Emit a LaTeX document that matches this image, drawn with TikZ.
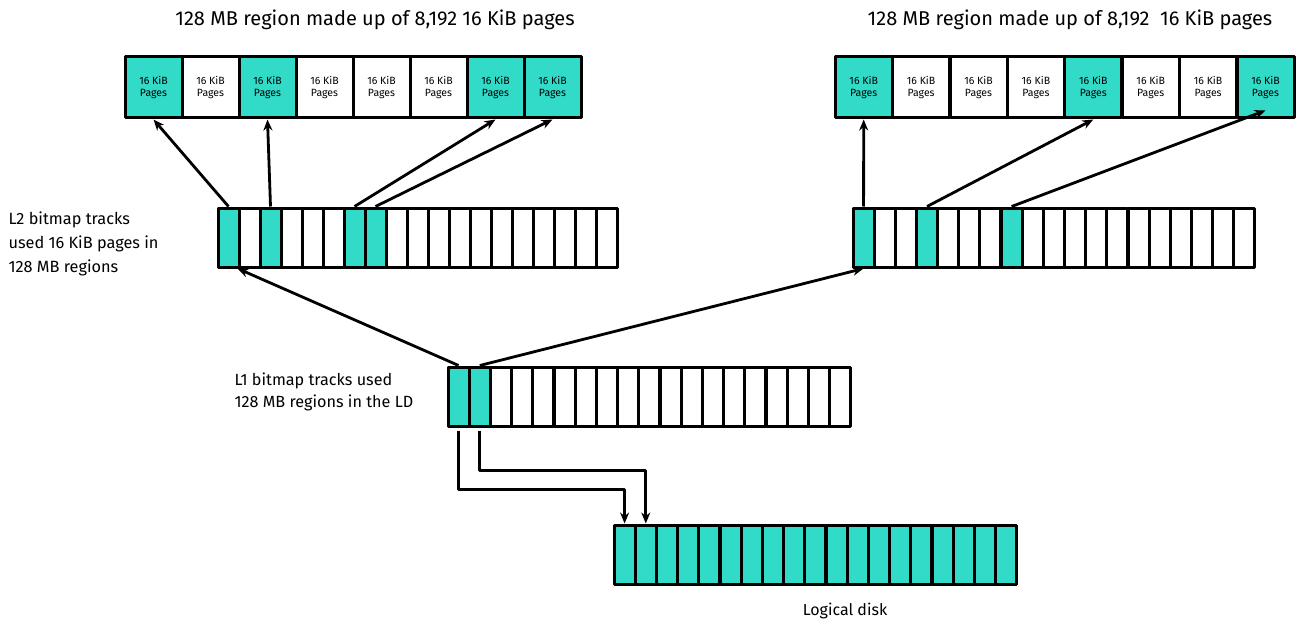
\documentclass[tikz,border=0pt]{standalone}
\usepackage{fontspec}
\setmainfont{Fira Sans}
\usetikzlibrary{arrows.meta}
\definecolor{hpeteal}{RGB}{50,218,200}
\begin{document}
\begin{tikzpicture}[x=1pt, y=1pt, line join=round, >={Stealth[length=11pt,width=9pt]},
	bitcell/.style={draw, line width=3pt, fill=white, minimum width=21pt, minimum height=59pt, inner sep=0pt},
	pagecell/.style={draw, line width=3pt, fill=white, minimum width=57pt, minimum height=61pt, inner sep=0pt, align=center, font=\fontsize{10.5}{11.5}\selectfont},
	used/.style={fill=hpeteal}, free/.style={},
	link/.style={->, line width=2.8pt}]
	\useasboundingbox (0,0) rectangle (1296,-623);
	% titles
	\node[font=\fontsize{20}{24}\selectfont] (titlea) at (375,-20) {128 MB region made up of 8,192 16 KiB pages};
	\node[font=\fontsize{20}{24}\selectfont] (titleb) at (1070,-20) {128 MB region made up of 8,192\ \ 16 KiB pages};
	% 16 KiB pages
	\foreach \i/\f in {1/used,2/free,3/used,4/free,5/free,6/free,7/used,8/used}
	\node[pagecell,\f] (pa\i) at ({125+57*(\i-0.5)},-87.5) {16 KiB\\Pages};
	\foreach \i/\f in {1/used,2/free,3/free,4/free,5/used,6/free,7/free,8/used}
	\node[pagecell,\f] (pb\i) at ({835+57.4*(\i-0.5)},-87.5) {16 KiB\\Pages};
	% L2 bitmaps
	\foreach \i in {1,...,19}{
		\node[bitcell] (la\i) at ({218+21*(\i-0.5)},-237.5) {};
		\node[bitcell] (lb\i) at ({853+21.15*(\i-0.5)},-237.5) {};
		\node[bitcell] (lone\i) at ({448+21.2*(\i-0.5)},-396.5) {};
		\node[bitcell,used] (disk\i) at ({614+21.2*(\i-0.5)},-554.5) {};
	}
	\foreach \i in {1,3,7,8}
	\node[bitcell,used] (la\i) at ({218+21*(\i-0.5)},-237.5) {};
	\foreach \i in {1,4,8}
	\node[bitcell,used] (lb\i) at ({853+21.15*(\i-0.5)},-237.5) {};
	\foreach \i in {1,2}
	\node[bitcell,used] (lone\i) at ({448+21.2*(\i-0.5)},-396.5) {};
	% texts
	\node[anchor=north west, align=left, font=\fontsize{16.3}{24}\selectfont] (l2text) at (5,-208) {L2 bitmap tracks\\used 16 KiB pages in\\128 MB regions};
	\node[anchor=north west, align=left, font=\fontsize{16.2}{22.5}\selectfont] (l1text) at (231,-369) {L1 bitmap tracks used\\128 MB regions in the LD};
	\node[font=\fontsize{16}{18}\selectfont] (disktext) at (845,-611) {Logical disk};
	% L2 -> pages
	\draw[link] (la1.north) -- (pa1.south);
	\draw[link] (la3.north) -- (pa3.south);
	\draw[link] (la7.north) -- (pa7.south);
	\draw[link] (la8.north) -- (pa8.south);
	\draw[link] (lb1.north) -- (pb1.south);
	\draw[link] (lb4.north) -- (pb5.south);
	\draw[link] (lb8.north) -- ([yshift=9pt]pb8.south);
	% L1 -> L2 and disk
	\draw[link] (lone1.north) -- ([xshift=-3pt]la1.south east);
	\draw[link] (lone2.north) -- (lb1.south);
	\draw[link] ([yshift=-3pt]lone1.south) -- ++(0,-59) -| (disk1.north);
	\draw[link] ([yshift=-3pt]lone2.south) -- ++(0,-40) -| (disk2.north);
\end{tikzpicture}
\end{document}
